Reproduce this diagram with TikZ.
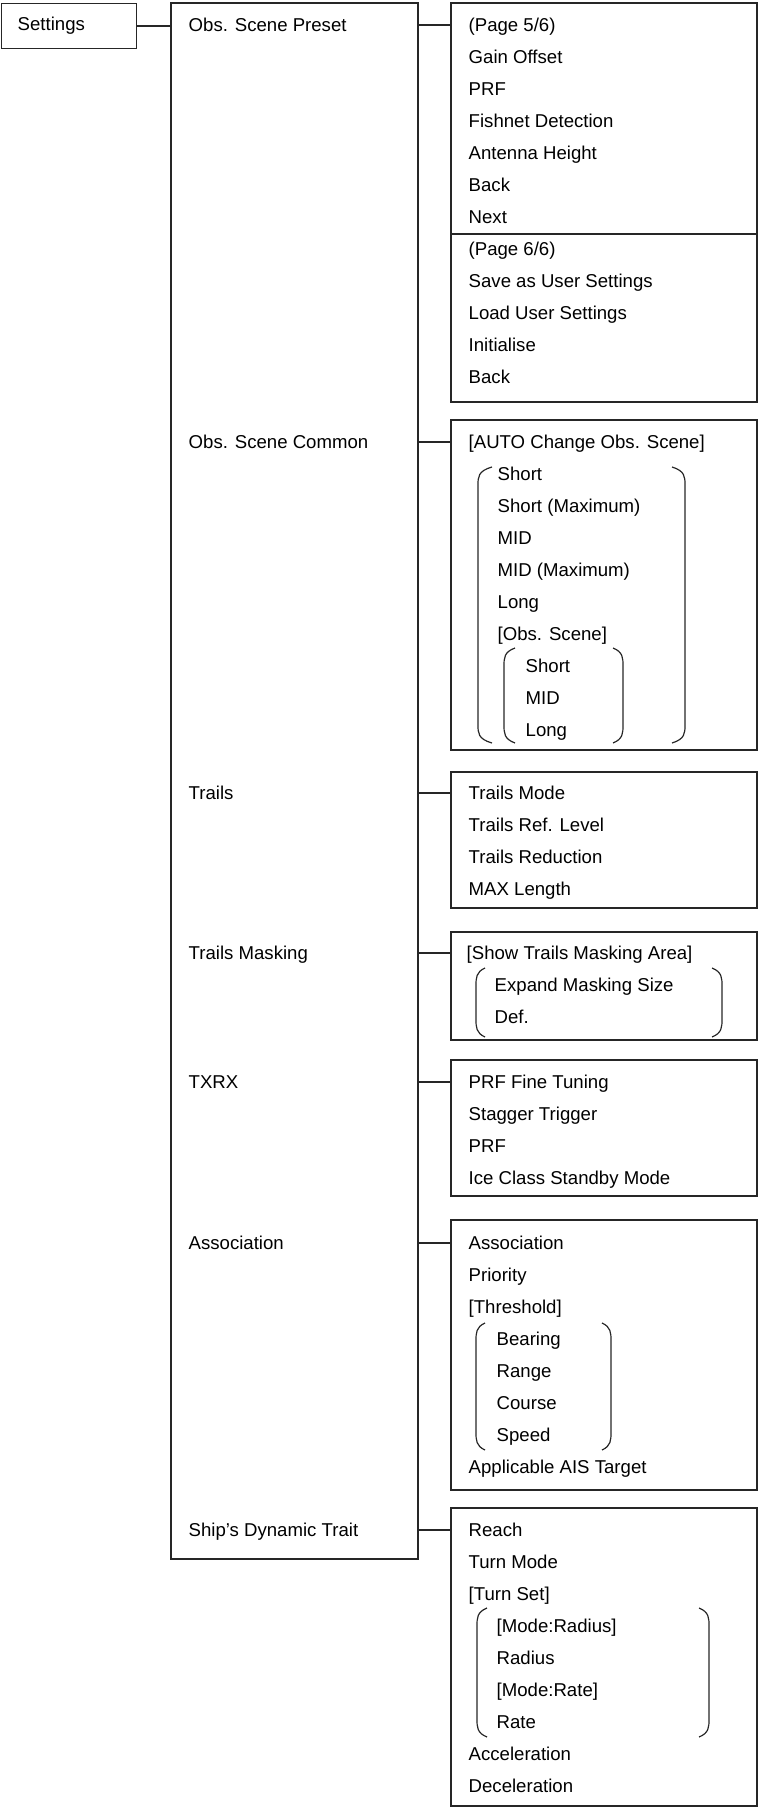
\documentclass[tikz,border=0pt]{standalone}
\usepackage{fontspec}
\setmainfont{Liberation Sans}
\usetikzlibrary{fit}

\tikzset{
  box/.style={draw=black!85, line width=0.7pt, inner sep=0pt},
  item/.style={anchor=west, inner sep=0pt, text height=6.66pt, text depth=0pt},
  brk/.style={draw=black!85, line width=0.6pt},
}
% round bracket: tip x, spine x, top y, bottom y
\newcommand{\menubrk}[4]{%
  \draw[brk] (#1,#3) .. controls (#2,#3+4) and (#2,#3+10) .. (#2,#3+18)
    -- (#2,#4-18) .. controls (#2,#4-10) and (#2,#4-4) .. (#1,#4);}

\begin{document}
\begin{tikzpicture}[x=0.5pt, y=-0.5pt, font=\fontsize{9.3}{11}\selectfont, line width=0.7pt, draw=black!85]
\useasboundingbox (0,0) rectangle (758,1807);

% top level
\node[box, anchor=north west, minimum height=22.5pt, text width=51.5pt, inner xsep=8pt, align=left] (settings) at (1,3) {Settings};

% settings menu column
\node[box, fit={(171,3) (418,1559)}] (menu) {};
\draw (settings.east) -- (settings.east -| menu.west);

\node[item] (obsPreset) at (188,25) {Obs. Scene Preset};
\node[item] (obsCommon) at (188,442) {Obs. Scene Common};
\node[item] (trails) at (188,793) {Trails};
\node[item] (trailsMask) at (188,953) {Trails Masking};
\node[item] (txrx) at (188,1082) {TXRX};
\node[item] (assoc) at (188,1243) {Association};
\node[item] (shipTrait) at (188,1530) {Ship's Dynamic Trait};

% Obs. Scene Preset (two pages)
\node[box, fit={(451,3) (757,402)}] (preset) {};
\draw (preset.west |- 0,234) -- (preset.east |- 0,234);
\foreach \txt [count=\i from 0] in {(Page 5/6), Gain Offset, PRF, Fishnet Detection, Antenna Height, Back, Next, (Page 6/6), Save as User Settings, Load User Settings, Initialise, Back}
  \node[item] (preset-\i) at (468,25+32*\i) {\txt};

% Obs. Scene Common
\node[box, fit={(451,420) (757,750)}] (common) {};
\foreach \x/\txt [count=\i from 0] in {468/[AUTO Change Obs. Scene], 497/Short, 497/Short (Maximum), 497/MID, 497/MID (Maximum), 497/Long, 497/[Obs. Scene], 525/Short, 525/MID, 525/Long}
  \node[item] (common-\i) at (\x,442+32*\i) {\txt};
\menubrk{492}{478}{467}{743}
\menubrk{672}{685}{467}{743}
\menubrk{515}{504}{648}{743}
\menubrk{613}{623}{648}{743}

% Trails
\node[box, fit={(451,772) (757,908)}] (trailbox) {};
\foreach \txt [count=\i from 0] in {Trails Mode, Trails Ref. Level, Trails Reduction, MAX Length}
  \node[item] (trail-\i) at (468,793+32*\i) {\txt};

% Trails Masking
\node[box, fit={(451,932) (757,1040)}] (maskbox) {};
\foreach \x/\txt [count=\i from 0] in {466/[Show Trails Masking Area], 494/Expand Masking Size, 494/Def.}
  \node[item] (mask-\i) at (\x,953+32*\i) {\txt};
\menubrk{485}{476}{968}{1037}
\menubrk{712}{722}{968}{1037}

% TXRX
\node[box, fit={(451,1060) (757,1196)}] (txrxbox) {};
\foreach \txt [count=\i from 0] in {PRF Fine Tuning, Stagger Trigger, PRF, Ice Class Standby Mode}
  \node[item] (txrx-\i) at (468,1082+32*\i) {\txt};

% Association
\node[box, fit={(451,1220) (757,1490)}] (assocbox) {};
\foreach \x/\txt [count=\i from 0] in {468/Association, 468/Priority, 468/[Threshold], 496/Bearing, 496/Range, 496/Course, 496/Speed, 468/Applicable AIS Target}
  \node[item] (assoc-\i) at (\x,1243+32*\i) {\txt};
\menubrk{485}{476}{1323}{1450}
\menubrk{602}{611}{1323}{1450}

% Ship's Dynamic Trait
\node[box, fit={(451,1508) (757,1806)}] (shipbox) {};
\foreach \x/\txt [count=\i from 0] in {468/Reach, 468/Turn Mode, 468/[Turn Set], 496/[Mode:Radius], 496/Radius, 496/[Mode:Rate], 496/Rate, 468/Acceleration, 468/Deceleration}
  \node[item] (ship-\i) at (\x,1530+32*\i) {\txt};
\menubrk{487}{477}{1608}{1737}
\menubrk{699}{709}{1608}{1737}

% links from the menu column to the sub menus
\foreach \lbl/\sub in {obsPreset/preset, obsCommon/common, trails/trailbox, trailsMask/maskbox, txrx/txrxbox, assoc/assocbox, shipTrait/shipbox}
  \draw (\lbl.west -| menu.east) -- (\lbl.west -| \sub.west);
\end{tikzpicture}
\end{document}
